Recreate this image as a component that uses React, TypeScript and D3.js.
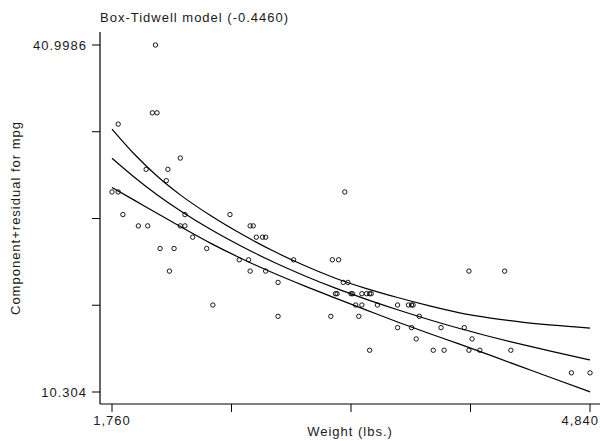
import React from "react";
import * as d3 from "d3";

// Scatter data: weight (lbs.) and component+residual for mpg
const weights = [2930,3350,2640,3250,4080,3670,2230,3280,3880,3400,4330,3900,4290,2110,3690,3180,3220,2750,3430,2120,3600,3600,3740,1800,2650,4840,4720,3830,2580,4060,3720,3370,4130,2830,4060,3310,3300,3690,3370,2730,4030,3260,1800,2200,2520,3330,3700,3470,3210,3200,3420,2690,2830,2070,2650,2370,2020,2280,2750,2230,1760,1980,3420,1830,2050,2410,2200,2670,2160,2040,1930,1990,3170,2130];
const mpgValues = [22,17,22,20,15,18,26,20,16,19,14,14,21,29,16,22,22,24,19,30,18,16,17,28,21,12,12,14,22,14,15,18,14,20,21,19,19,18,19,24,16,28,34,25,26,18,18,18,19,19,19,24,17,23,25,23,35,24,21,25,28,30,14,26,35,18,31,25,23,41,25,25,17,21];

// Fitted curve and confidence band
const curveWeights = [1760,1900,2050,2200,2400,2600,2800,3000,3200,3400,3600,3800,4000,4200,4400,4600,4840];
const fitValues = [30.98,29.35,27.76,26.34,24.65,23.15,21.80,20.59,19.49,18.50,17.58,16.72,15.92,15.19,14.51,13.87,13.14];
const upperValues = [33.56,31.40,29.41,27.74,25.87,24.23,22.77,21.49,20.37,19.45,18.66,17.94,17.30,16.84,16.49,16.22,15.96];
const lowerValues = [28.40,27.30,26.11,24.94,23.43,22.07,20.83,19.69,18.61,17.55,16.50,15.50,14.54,13.54,12.53,11.52,10.32];

const xTicks = [1760, 2530, 3300, 4070, 4840];
const xTickLabels = ["1,760", "", "", "", "4,840"];
const yTicks = [10.304, 17.9777, 25.6513, 33.325, 40.9986];
const yTickLabels = ["10.304", "", "", "", "40.9986"];

const title = "Box-Tidwell model (-0.4460)";
const xTitle = "Weight (lbs.)";
const yTitle = "Component+residual for mpg";

const W = 600, H = 441;
const FONT = "'Liberation Sans', Arial, Helvetica, sans-serif";

export default function App() {
  const x = d3.scaleLinear().domain([1760, 4840]).range([112, 590]);
  const y = d3.scaleLinear().domain([10.304, 40.9986]).range([392, 45]);
  const axisX = 100, axisY = 404;

  const line = d3.line<[number, number]>()
    .x(d => x(d[0]))
    .y(d => y(d[1]))
    .curve(d3.curveMonotoneX);

  const series = [fitValues, upperValues, lowerValues].map(vals =>
    curveWeights.map((w, i) => [w, vals[i]] as [number, number])
  );

  const textStyle = { fontFamily: FONT, fontSize: 13, letterSpacing: "1px", fill: "#1a1a1a" } as React.CSSProperties;

  return (
    <svg width={W} height={H} style={{ position: "absolute", left: 0, top: 0, background: "#fff" }}>
      <rect x={0} y={0} width={W} height={H} fill="#fff" />
      <text x={100} y={22} style={textStyle}>{title}</text>
      {/* axes */}
      <line x1={axisX} x2={axisX} y1={32} y2={axisY} stroke="#000" strokeWidth={1.2} />
      <line x1={axisX} x2={W} y1={axisY} y2={axisY} stroke="#000" strokeWidth={1.2} />
      {yTicks.map((t, i) => (
        <g key={"y" + i}>
          <line x1={axisX - 8} x2={axisX} y1={y(t)} y2={y(t)} stroke="#000" strokeWidth={1} />
          {yTickLabels[i] && (
            <text x={axisX - 13} y={y(t) + 4.5} textAnchor="end" style={textStyle}>{yTickLabels[i]}</text>
          )}
        </g>
      ))}
      {xTicks.map((t, i) => (
        <g key={"x" + i}>
          <line x1={x(t)} x2={x(t)} y1={axisY} y2={axisY + 8} stroke="#000" strokeWidth={1} />
          {xTickLabels[i] && (
            <text
              x={i === xTicks.length - 1 ? W - 1 : x(t)}
              y={425}
              textAnchor={i === xTicks.length - 1 ? "end" : "middle"}
              style={textStyle}
            >{xTickLabels[i]}</text>
          )}
        </g>
      ))}
      <text x={350} y={436} textAnchor="middle" style={textStyle}>{xTitle}</text>
      <text transform={`translate(20,218) rotate(-90)`} textAnchor="middle" style={textStyle}>{yTitle}</text>
      {/* curves */}
      {series.map((s, i) => (
        <path key={"c" + i} d={line(s) || ""} fill="none" stroke="#000" strokeWidth={1.2} />
      ))}
      {/* points */}
      {weights.map((w, i) => (
        <circle key={"p" + i} cx={x(w)} cy={y(mpgValues[i] - 0.0014)} r={2.2} fill="none" stroke="#000" strokeWidth={0.9} />
      ))}
    </svg>
  );
}
